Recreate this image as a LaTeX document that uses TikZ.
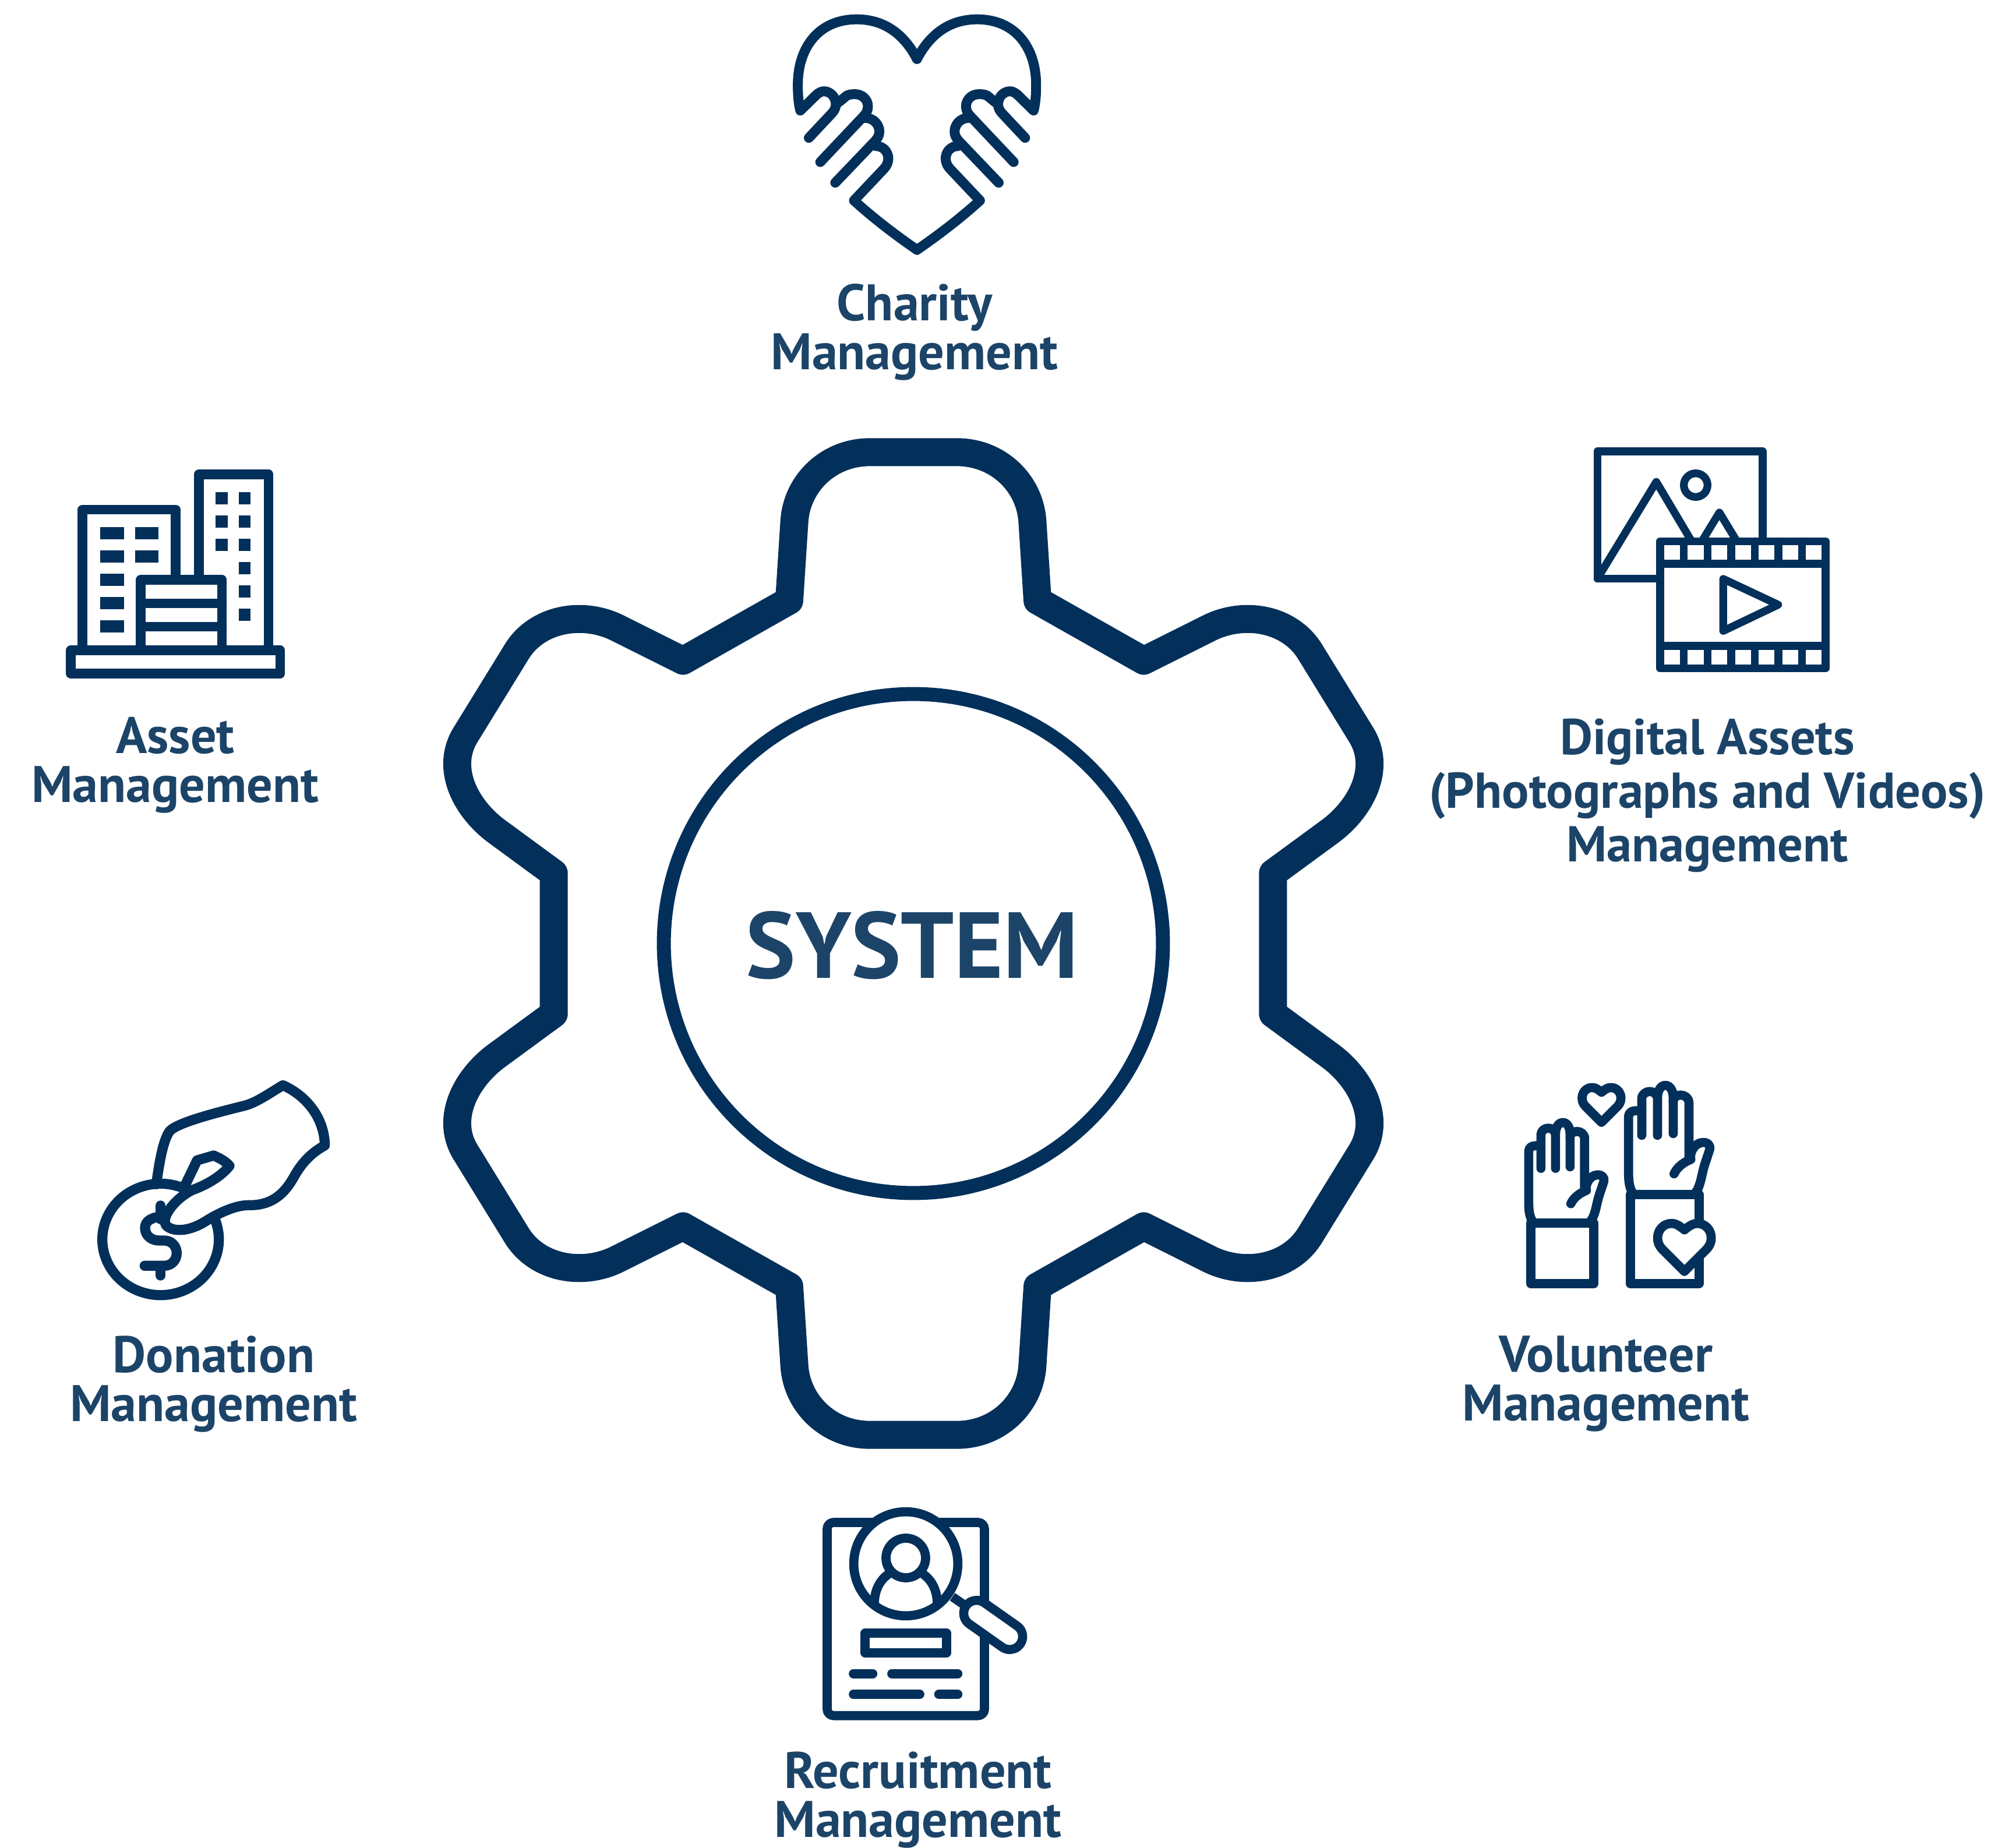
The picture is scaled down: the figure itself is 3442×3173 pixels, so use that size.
\documentclass[tikz,border=0pt]{standalone}
\usepackage{fontspec}
\setmainfont{PT Sans}
\definecolor{navy}{HTML}{03305A}
\definecolor{txt}{HTML}{1C4468}
\tikzset{
  ink/.style={draw=navy,line cap=round,line join=round,fill=none},
  lbl/.style={text=txt,font=\fontsize{25.1}{23.9}\selectfont\bfseries,align=center,inner sep=0pt},
  win/.style={fill=navy,draw=none}
}
\newcommand{\charityhalf}{%
  \draw[ink] (768,305) .. controls (700,165) and (600,100) .. (478,100)
     .. controls (300,100) and (195,240) .. (195,440)
     .. controls (195,490) and (198,535) .. (207,572)
     -- (278,497) .. controls (295,478) and (310,472) .. (320,472)
     .. controls (350,472) and (378,500) .. (378,540)
     .. controls (378,560) and (368,575) .. (358,587) -- (248,713);
  \draw[ink] (390,530) -- (430,495) .. controls (442,488) and (455,487) .. (470,487)
     .. controls (505,487) and (532,515) .. (532,550)
     .. controls (532,570) and (525,585) .. (512,600) -- (303,838);
  \draw[ink] (520,610) .. controls (560,610) and (587,645) .. (587,680)
     .. controls (587,700) and (580,712) .. (568,728) -- (375,945);
  \draw[ink] (570,755) .. controls (605,755) and (630,785) .. (630,820)
     .. controls (630,840) and (622,858) .. (610,872) -- (465,1037)
     .. controls (560,1130) and (670,1220) .. (768,1292);
}
\newcommand{\vhand}{%
  \draw[ink] (125,775) .. controls (105,745) and (103,710) .. (103,670) -- (103,410)
     .. controls (103,392) and (118,382) .. (135,382) -- (166,382);
  \draw[ink] (166,498) -- (166,325) .. controls (166,305) and (185,291) .. (204,291)
     .. controls (223,291) and (241,305) .. (241,325) -- (241,498);
  \draw[ink] (241,320) .. controls (241,285) and (258,262) .. (278,262)
     .. controls (300,262) and (316,285) .. (316,320) -- (316,490);
  \draw[ink] (316,335) .. controls (316,318) and (335,308) .. (352,308)
     .. controls (372,308) and (391,322) .. (391,345) -- (391,600);
  \draw[ink] (320,680) .. controls (338,642) and (375,622) .. (400,612)
     .. controls (392,585) and (415,535) .. (455,532)
     .. controls (480,530) and (495,545) .. (490,565) -- (470,625)
     .. controls (450,680) and (450,735) .. (420,772);
}
\newcommand{\vheart}{%
  \path[draw=navy,fill=white,line join=round,line cap=round] (0,0) .. controls (-15,-12) and (-30,-24) .. (-48,-24)
     .. controls (-78,-24) and (-100,0) .. (-100,30)
     .. controls (-100,50) and (-92,62) .. (-83,72) -- (0,155) -- (83,72)
     .. controls (92,62) and (100,50) .. (100,30)
     .. controls (100,0) and (78,-24) .. (48,-24)
     .. controls (30,-24) and (15,-12) .. (0,0) -- cycle;
}
\begin{document}
\begin{tikzpicture}[x=0.01cm,y=-0.01cm]
\useasboundingbox[fill=white] (0,0) rectangle (3442,3173);

% ---- gear
\begin{scope}[shift={(1568,1620)},x=0.021952cm,y=0.021952cm]
  \draw[ink,line width=0.48cm]
    (-34,384) -- (34,384) .. controls (66,384) and (91,360) .. (93,330)
    -- (97,268) -- (180,221) -- (232,247)
    .. controls (259,260) and (294,254) .. (310,228)
    -- (350,163) .. controls (366,137) and (350,106) .. (326,88)
    -- (281,55) -- (281,-55) -- (326,-88)
    .. controls (350,-106) and (366,-137) .. (350,-163)
    -- (310,-228) .. controls (294,-254) and (259,-260) .. (232,-247)
    -- (180,-221) -- (97,-268) -- (93,-330)
    .. controls (91,-360) and (66,-384) .. (34,-384)
    -- (-34,-384) .. controls (-66,-384) and (-91,-360) .. (-93,-330)
    -- (-97,-268) -- (-180,-221) -- (-232,-247)
    .. controls (-259,-260) and (-294,-254) .. (-310,-228)
    -- (-350,-163) .. controls (-366,-137) and (-350,-106) .. (-326,-88)
    -- (-281,-55) -- (-281,55) -- (-326,88)
    .. controls (-350,106) and (-366,137) .. (-350,163)
    -- (-310,228) .. controls (-294,254) and (-259,260) .. (-232,247)
    -- (-180,221) -- (-97,268) -- (-93,330)
    .. controls (-91,360) and (-66,384) .. (-34,384) -- cycle;
  \draw[ink,line width=0.24cm] (0,0) circle (195);
\end{scope}
\node[text=txt,font=\fontsize{45.8}{47}\selectfont\bfseries,inner sep=0pt] (sys) at (1566,1623) {SYSTEM};

% ---- charity
\begin{scope}[shift={(1300,0)},xscale=.357,yscale=.332,line width=0.17cm]
  \charityhalf
\end{scope}
\begin{scope}[shift={(1848.3,0)},xscale=-.357,yscale=.332,line width=0.17cm]
  \charityhalf
\end{scope}
\node[lbl] (charity) at (1570,570) {Charity\\Management};

% ---- asset
\begin{scope}[shift={(90,780)},scale=.3333,line width=0.167cm]
  \draw[ink] (95,1010) rectangle (1173,1130);
  \draw[ink] (155,1010) -- (155,285) -- (635,285) -- (635,647);
  \draw[ink] (755,647) -- (755,103) -- (1113,103) -- (1113,1010);
  \draw[ink] (455,1010) -- (455,647) -- (873,647) -- (873,1010);
  \draw[ink] (455,768) -- (873,768);
  \draw[ink] (455,888) -- (873,888);
  \foreach \yy in {376,496,616,736,856} \fill[win] (247,\yy) rectangle ++(121,62);
  \foreach \yy in {376,496} \fill[win] (425,\yy) rectangle ++(122,62);
  \foreach \yy in {196,316,436} \fill[win] (840,\yy) rectangle ++(62,62);
  \foreach \yy in {196,316,436,556,676,796} \fill[win] (959,\yy) rectangle ++(62,62);
\end{scope}
\node[lbl] (asset) at (301,1314) {Asset\\Management};

% ---- digital
\begin{scope}[shift={(2700,740)},scale=.3333,line width=0.133cm]
  \draw[ink] (450,760) -- (127,760) -- (127,105) -- (978,105) -- (978,568);
  \draw[ink] (127,760) -- (430,262) -- (612,568);
  \draw[ink] (665,568) -- (755,420) -- (845,568);
  \draw[ink] (633,279) circle (61);
  \draw[ink] (450,568) rectangle (1302,1222);
  \draw[ink] (450,684) -- (1302,684);
  \draw[ink] (450,1107) -- (1302,1107);
  \foreach \xx in {572,694,816,937,1059,1181} {
    \draw[ink] (\xx,568) -- (\xx,684);
    \draw[ink] (\xx,1107) -- (\xx,1222);
  }
  \draw[ink] (775,762) -- (1058,895) -- (775,1030) -- cycle;
\end{scope}
\node[lbl,font=\fontsize{24.6}{26.2}\selectfont\bfseries] (digital) at (2931,1366) {Digital Assets\\(Photographs and Videos)\\Management};

% ---- donation
\begin{scope}[shift={(140,1830)},scale=.3333,line width=0.173cm]
  \draw[ink] (440,775) .. controls (360,775) and (327,800) .. (327,835)
     .. controls (327,875) and (360,900) .. (400,900) -- (425,900)
     .. controls (465,900) and (490,930) .. (490,965)
     .. controls (490,1000) and (465,1030) .. (425,1030) -- (325,1030);
  \draw[ink] (407,720) -- (407,790);
  \draw[ink] (407,1030) -- (407,1080);
  \fill[white] (385,600) -- (455,335) -- (840,205) -- (1037,100) -- (1253,410)
     -- (1095,570) -- (860,718) -- (640,800) -- (500,860) -- (425,815) -- (520,650) -- cycle;
  \draw[ink] (689,796) arc[start angle=-20,end angle=294,x radius=300,y radius=287];
  \draw[ink] (385,610) .. controls (400,500) and (420,380) .. (455,335)
     .. controls (500,290) and (700,240) .. (840,205)
     .. controls (900,190) and (970,140) .. (1037,100)
     .. controls (1150,150) and (1250,260) .. (1253,410)
     .. controls (1190,445) and (1140,490) .. (1095,570)
     .. controls (1040,670) and (970,720) .. (860,718)
     .. controls (800,718) and (720,750) .. (640,800)
     .. controls (570,845) and (490,860) .. (445,830)
     .. controls (395,800) and (470,690) .. (570,640)
     .. controls (640,615) and (720,570) .. (762,515)
     .. controls (740,490) and (710,475) .. (680,462)
     -- (595,487) -- (535,612);
\end{scope}
\node[lbl] (donation) at (367,2376) {Donation\\Management};

% ---- volunteer
\begin{scope}[shift={(2590,1840)},scale=.3333,line width=0.157cm]
  \draw[ink] (114,780) rectangle (438,1092);
  \vhand
  \draw[ink] (626,633) rectangle (980,1092);
  \begin{scope}[shift={(506,-215)},xscale=1.08,yscale=1.09]
    \vhand
  \end{scope}
  \begin{scope}[shift={(478,106)}]
    \vheart
  \end{scope}
  \begin{scope}[shift={(905,815)},scale=1.38]
    \vheart
  \end{scope}
\end{scope}
\node[lbl] (volunteer) at (2757,2376) {Volunteer\\Management};

% ---- recruitment
\begin{scope}[shift={(1390,2570)},scale=.3333,line width=0.157cm]
  \draw[ink,rounded corners=0.11cm] (90,132) rectangle (900,1127);
  \draw[ink,line cap=butt] (735,515) -- (790,553);
  \draw[navy,line cap=round,line width=0.6cm] (860,600) -- (1030,720);
  \draw[white,line cap=round,line width=0.287cm] (860,600) -- (1030,720);
  \path[fill=white] (495,345) circle (268);
  \draw[ink] (495,315) circle (102);
  \draw[ink,line cap=butt] (333,545) .. controls (335,475) and (365,425) .. (410,395);
  \draw[ink,line cap=butt] (657,545) .. controls (655,475) and (625,425) .. (580,395);
  \draw[ink] (495,345) circle (268);
  \draw[ink] (285,703) rectangle (705,804);
  \draw[ink] (225,911) -- (325,911);
  \draw[ink] (423,911) -- (763,911);
  \draw[ink] (225,1018) -- (567,1018);
  \draw[ink] (665,1018) -- (763,1018);
\end{scope}
\node[lbl] (recruit) at (1576,3090) {Recruitment\\Management};
\end{tikzpicture}
\end{document}
